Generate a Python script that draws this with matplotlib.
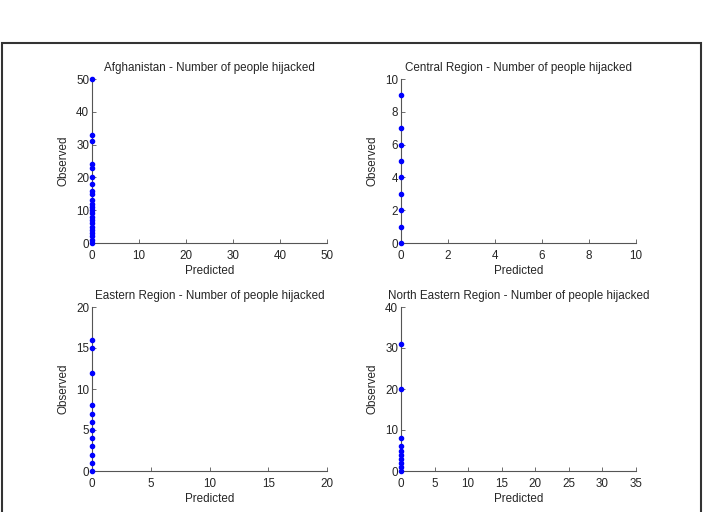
import numpy as np
import matplotlib
matplotlib.use("Agg")
import matplotlib.pyplot as plt
from matplotlib.patches import Rectangle

plt.rcParams['font.family'] = ['Liberation Sans', 'DejaVu Sans']
fs = 8.4

# observed values per region (predicted is always 0)
titles = ["Afghanistan - Number of people hijacked",
          "Central Region - Number of people hijacked",
          "Eastern Region - Number of people hijacked",
          "North Eastern Region - Number of people hijacked"]
afghan_obs = [0, 1, 2, 3, 4, 5, 6, 7, 8, 9, 10, 11, 12, 13, 15, 16, 18, 20, 23, 24, 31, 33, 50]
central_obs = [0, 1, 2, 3, 4, 5, 6, 7, 9]
eastern_obs = [0, 1, 2, 3, 4, 5, 6, 7, 8, 12, 15, 16]
neast_obs = [0, 1, 2, 3, 4, 5, 6, 8, 20, 31]
observed = [afghan_obs, central_obs, eastern_obs, neast_obs]
xlims = [50, 10, 20, 35]
ylims = [50, 10, 20, 40]
xticks = [np.arange(0, 51, 10), np.arange(0, 11, 2), np.arange(0, 21, 5), np.arange(0, 36, 5)]
yticks = [np.arange(0, 51, 10), np.arange(0, 11, 2), np.arange(0, 21, 5), np.arange(0, 41, 10)]

txt = '#262626'
fig = plt.figure(figsize=(7.03, 5.12), dpi=100)
W, H = 703.0, 512.0
# left, top pixel positions of each axes
pos = [(92, 79), (401, 79), (92, 307), (401, 307)]
aw, ah = 235, 164

for i in range(4):
    l, t = pos[i]
    ax = fig.add_axes([l / W, 1 - (t + ah) / H, aw / W, ah / H])
    obs = observed[i]
    ax.plot(np.zeros(len(obs)), obs, '.', color='#0000ff', markersize=6, clip_on=False, zorder=5)
    ax.set_xlim(0, xlims[i])
    ax.set_ylim(0, ylims[i])
    ax.set_xticks(xticks[i])
    ax.set_yticks(yticks[i])
    for s in ['top', 'right']:
        ax.spines[s].set_visible(False)
    for s in ['left', 'bottom']:
        ax.spines[s].set_color('#555555')
        ax.spines[s].set_linewidth(0.8)
    ax.tick_params(direction='in', length=3, width=0.6, color='#555555',
                   labelcolor=txt, labelsize=fs)
    ax.tick_params(axis='x', pad=5)
    ax.tick_params(axis='y', pad=2)
    ax.set_title(titles[i], pad=6, color=txt, fontsize=fs)
    ax.set_xlabel("Predicted", labelpad=2, color=txt, fontsize=fs)
    ax.set_ylabel("Observed", labelpad=5, color=txt, fontsize=fs)

# frame around the figure
fig.patches.append(Rectangle((1.5 / W, -0.05), 699.5 / W, 1 - 43 / H + 0.05,
                             transform=fig.transFigure, fill=False,
                             edgecolor='#333333', linewidth=1.5))

fig.savefig("out.png", dpi=100)
